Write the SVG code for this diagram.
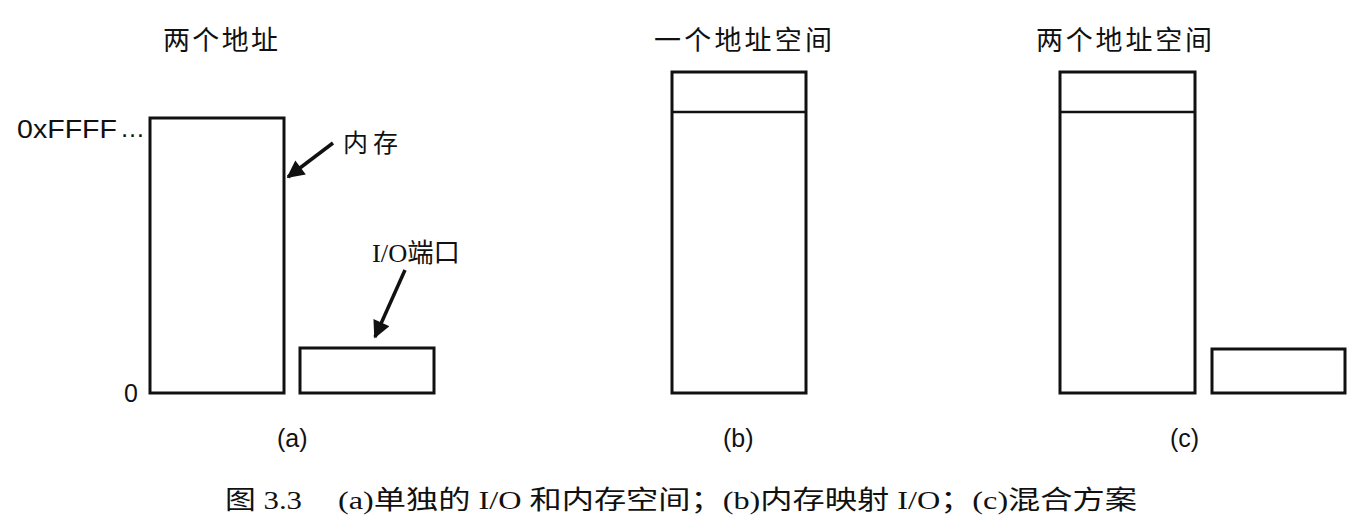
<svg xmlns="http://www.w3.org/2000/svg" width="1359" height="530" viewBox="0 0 1359 530">
<style>
.box{fill:#fff;stroke:#111;stroke-width:3}
.div{stroke:#111;stroke-width:2.5}
.t{font-family:"Liberation Sans","Noto Sans CJK SC",sans-serif;font-size:25px;fill:#111}
.h{font-size:27px}
.s{font-family:"Liberation Serif","Noto Sans CJK SC",serif;font-size:26px;fill:#111}
.arr{stroke:#111;stroke-width:3.5;fill:none;marker-end:url(#ah)}
</style>
<defs>
<marker id="ah" viewBox="0 0 10 10" refX="9" refY="5" markerWidth="6" markerHeight="5" orient="auto" markerUnits="strokeWidth">
<path d="M0,0 L10,5 L0,10 z" fill="#111"/>
</marker>
</defs>
<rect width="1359" height="530" fill="#fff"/>
<g id="a-title"><text class="t h" x="163" y="50" textLength="115" lengthAdjust="spacing">两个地址</text></g>
<g id="a-mem"><rect class="box" x="150" y="118" width="134" height="275"/></g>
<g id="a-io"><rect class="box" x="300" y="348" width="134" height="45"/></g>
<g id="a-labels">
<text class="t" x="17" y="138" textLength="100" lengthAdjust="spacingAndGlyphs">0xFFFF</text>
<text class="t" x="120" y="137" font-size="18">…</text>
<text class="t" x="124" y="402">0</text>
<text class="t" x="343" y="152" font-size="26" textLength="55" lengthAdjust="spacing">内存</text>
<text class="s" x="372" y="262" textLength="88" lengthAdjust="spacingAndGlyphs">I/O端口</text>
<text class="t" x="277" y="447" font-size="24">(a)</text>
</g>
<g id="b-title"><text class="t h" x="654" y="50" textLength="178" lengthAdjust="spacing">一个地址空间</text></g>
<g id="b-space"><rect class="box" x="672" y="72" width="134" height="321"/><line class="div" x1="672" y1="112" x2="806" y2="112"/></g>
<g id="b-label"><text class="t" x="723" y="447" font-size="24">(b)</text></g>
<g id="c-title"><text class="t h" x="1036" y="50" textLength="176" lengthAdjust="spacing">两个地址空间</text></g>
<g id="c-space"><rect class="box" x="1060" y="72" width="135" height="321"/><line class="div" x1="1060" y1="112" x2="1195" y2="112"/></g>
<g id="c-io"><rect class="box" x="1212" y="349" width="133" height="44"/></g>
<g id="c-label"><text class="t" x="1170" y="447" font-size="24">(c)</text></g>
<g id="connectors">
<line class="arr" x1="333" y1="143" x2="288" y2="177"/>
<line class="arr" x1="405" y1="270" x2="375" y2="337"/>
</g>
<g id="caption">
<text class="s" x="225" y="509" font-size="28" textLength="77" lengthAdjust="spacingAndGlyphs">图 3.3</text>
<text class="s" x="338" y="509" font-size="28" textLength="799" lengthAdjust="spacingAndGlyphs">(a)单独的 I/O 和内存空间；(b)内存映射 I/O；(c)混合方案</text>
</g>
</svg>
